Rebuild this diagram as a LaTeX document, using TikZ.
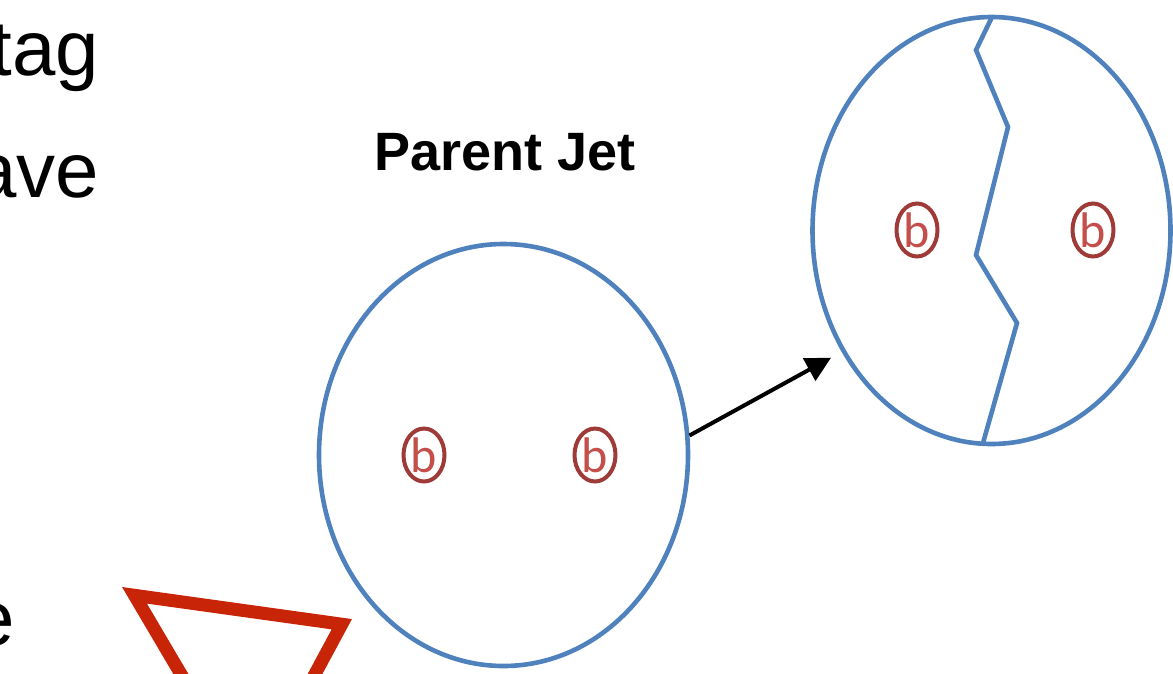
\documentclass[tikz,border=0pt]{standalone}
\usepackage{fontspec}
\setmainfont{Liberation Sans}
\newfontfamily\bfont{Carlito}
\usetikzlibrary{shapes.geometric,arrows.meta}
\definecolor{jetblue}{RGB}{79,129,189}
\definecolor{bring}{RGB}{158,58,55}
\definecolor{bletter}{RGB}{196,78,74}
\definecolor{conered}{RGB}{200,36,8}
\tikzset{
  jet/.style={draw=jetblue, line width=4.6pt, ellipse, inner sep=0pt},
  bquark/.style={draw=bring, line width=4pt, ellipse, inner sep=0pt,
    minimum width=41pt, minimum height=53pt,
    text=bletter, font=\bfont\fontsize{50}{50}\selectfont},
  bodytext/.style={font=\fontsize{78}{78}\selectfont, inner sep=0pt, anchor=base east},
  split/.style={draw=jetblue, line width=4.6pt, line join=miter},
  link/.style={draw=black, line width=4pt, -{Triangle[length=25pt,width=25pt]}}
}
\begin{document}
\begin{tikzpicture}[x=1pt,y=-1pt]
  \path[use as bounding box] (0,0) rectangle (1173,673);
  \clip (0,0) rectangle (1173,673);

  % text fragments at the left margin
  \node[bodytext] (t1) at (99,75) {tag};
  \node[bodytext] (t2) at (99,197) {ave};
  \node[bodytext] (t3) at (15,645) {e};

  % title
  \node[font=\bfseries\fontsize{54}{54}\selectfont, inner sep=0pt, anchor=base west]
    (title) at (374,170) {Parent Jet};

  % parent jet with its two b quarks
  \node[jet, minimum width=369pt, minimum height=422pt] (parent) at (503.5,455) {};
  \node[bquark] (pb1) at (424,455) {b};
  \node[bquark] (pb2) at (595,455) {b};

  % split jet
  \node[jet, minimum width=358pt, minimum height=427pt] (child) at (991.5,230.5) {};
  \node[bquark] (cb1) at (917,230) {b};
  \node[bquark] (cb2) at (1093,230) {b};
  \draw[split] (992,17) -- (976,50) -- (1008,127) -- (976,255) -- (1017,323) -- (983,443);

  % parent to split
  \draw[link, shorten >=12pt] (parent.6) -- (child.219.8);

  % red cone outline
  \draw[conered, line width=13pt, line join=miter, miter limit=20]
    (134.5,595.3) -- (341.8,624.2) -- (251,793) -- cycle;
\end{tikzpicture}
\end{document}
